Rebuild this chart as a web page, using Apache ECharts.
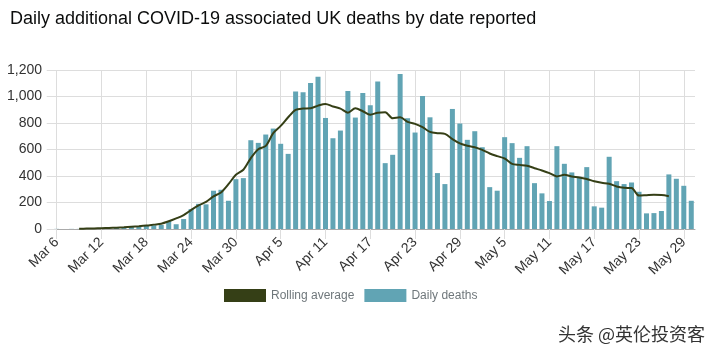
<!DOCTYPE html>
<html>
<head>
<meta charset="utf-8">
<script src="https://cdn.jsdelivr.net/npm/echarts@6/dist/echarts.min.js"></script>
<style>
  html, body { margin: 0; padding: 0; background: #fff; }
  #chart { width: 717px; height: 356px; }
</style>
</head>
<body>
<div id="chart"></div>
<script>
// ---- Data ----
const dates = [
  'Mar 6','Mar 7','Mar 8','Mar 9','Mar 10','Mar 11','Mar 12','Mar 13','Mar 14','Mar 15',
  'Mar 16','Mar 17','Mar 18','Mar 19','Mar 20','Mar 21','Mar 22','Mar 23','Mar 24','Mar 25',
  'Mar 26','Mar 27','Mar 28','Mar 29','Mar 30','Mar 31','Apr 1','Apr 2','Apr 3','Apr 4',
  'Apr 5','Apr 6','Apr 7','Apr 8','Apr 9','Apr 10','Apr 11','Apr 12','Apr 13','Apr 14',
  'Apr 15','Apr 16','Apr 17','Apr 18','Apr 19','Apr 20','Apr 21','Apr 22','Apr 23','Apr 24',
  'Apr 25','Apr 26','Apr 27','Apr 28','Apr 29','Apr 30','May 1','May 2','May 3','May 4',
  'May 5','May 6','May 7','May 8','May 9','May 10','May 11','May 12','May 13','May 14',
  'May 15','May 16','May 17','May 18','May 19','May 20','May 21','May 22','May 23','May 24',
  'May 25','May 26','May 27','May 28','May 29','May 30'
];

const dailyDeaths = [
  1, 0, 1, 1, 2, 2, 1, 3, 8, 12,
  15, 20, 25, 28, 30, 60, 36, 75, 150, 190,
  186, 289, 296, 213, 376, 384, 670, 650, 713, 758,
  643, 567, 1037, 1032, 1102, 1150, 838, 685, 743, 1042,
  841, 1027, 934, 1114, 497, 560, 1170, 836, 728, 1004,
  843, 422, 339, 906, 796, 673, 738, 617, 316, 289,
  693, 648, 537, 625, 346, 269, 211, 625, 492, 427,
  394, 467, 171, 161, 545, 361, 339, 351, 281, 118,
  120, 136, 412, 379, 326, 213
];

const rollingAverage = [
  null, null, null, 2, 3, 4, 6, 8, 10, 13,
  17, 21, 26, 33, 40, 58, 80, 105, 143, 178,
  204, 246, 276, 338, 409, 447, 535, 602, 627, 723,
  778, 843, 899, 909, 911, 931, 944, 924, 909, 878,
  911, 889, 863, 878, 881, 836, 843, 808, 793, 768,
  733, 723, 718, 678, 646, 628, 617, 597, 570, 550,
  532, 492, 484, 477, 459, 442, 422, 397, 409, 397,
  389, 377, 361, 349, 341, 321, 311, 309, 252, 255,
  258, 256, 248, null, null, null
];

// indices of dates that carry an x-axis label (every 6 days)
const labelIdx = [0, 6, 12, 18, 24, 30, 36, 42, 48, 54, 60, 66, 72, 78, 84];

const yTicks = { min: 0, max: 1200, interval: 200 };

// ---- Chart ----
const chart = echarts.init(document.getElementById('chart'), null, { renderer: 'canvas' });

const gridColor = '#dddddd';
const textColor = '#333333';

chart.setOption({
  animation: false,
  backgroundColor: '#ffffff',
  title: {
    text: 'Daily additional COVID-19 associated UK deaths by date reported',
    left: 5,
    top: 5,
    textStyle: {
      fontFamily: 'Liberation Sans, Arial, sans-serif',
      fontSize: 18,
      fontWeight: 'normal',
      color: '#0b0c0c'
    }
  },
  legend: {
    left: 219,
    top: 284,
    itemWidth: 42,
    itemHeight: 13,
    itemGap: 10,
    data: [
      { name: 'Rolling average', icon: 'rect' },
      { name: 'Daily deaths', icon: 'rect' }
    ],
    textStyle: {
      fontFamily: 'Liberation Sans, Arial, sans-serif',
      fontSize: 12,
      color: '#6f777b'
    }
  },
  grid: {
    left: 53,
    right: 22,
    top: 70,
    bottom: 127,
    containLabel: false
  },
  xAxis: {
    type: 'value',
    min: -0.5,
    max: dates.length - 0.5,
    axisLine: { show: true, lineStyle: { color: '#aaaaaa', width: 1 } },
    axisTick: {
      show: true,
      customValues: labelIdx,
      length: 10,
      lineStyle: { color: gridColor }
    },
    splitLine: { show: true, lineStyle: { color: gridColor, width: 1 } },
    axisLabel: {
      customValues: labelIdx,
      rotate: 45,
      margin: 11,
      fontFamily: 'Liberation Sans, Arial, sans-serif',
      fontSize: 14,
      color: textColor,
      formatter: function (v) { return dates[Math.round(v)]; }
    }
  },
  yAxis: {
    type: 'value',
    min: yTicks.min,
    max: yTicks.max,
    interval: yTicks.interval,
    axisLine: { show: false },
    axisTick: { show: true, length: 10, lineStyle: { color: gridColor } },
    splitLine: { show: true, lineStyle: { color: gridColor, width: 1 } },
    axisLabel: {
      margin: 11,
      fontFamily: 'Liberation Sans, Arial, sans-serif',
      fontSize: 14,
      color: textColor,
      formatter: function (v) { return v.toLocaleString('en-US'); }
    }
  },
  series: [
    {
      name: 'Daily deaths',
      type: 'bar',
      barWidth: 5,
      itemStyle: { color: '#61a4b4' },
      data: dailyDeaths.map(function (v, i) { return [i, v]; }),
      z: 2
    },
    {
      name: 'Rolling average',
      type: 'line',
      smooth: 0.3,
      symbol: 'none',
      lineStyle: { color: '#353f16', width: 2 },
      itemStyle: { color: '#353f16' },
      data: rollingAverage.map(function (v, i) { return [i, v]; }),
      z: 3
    }
  ],
  graphic: [
    {
      type: 'text',
      right: 12,
      top: 325,
      style: {
        text: '头条 @英伦投资客',
        font: '18px "Noto Sans CJK SC", sans-serif',
        fill: '#333333'
      }
    }
  ]
});
</script>
</body>
</html>
